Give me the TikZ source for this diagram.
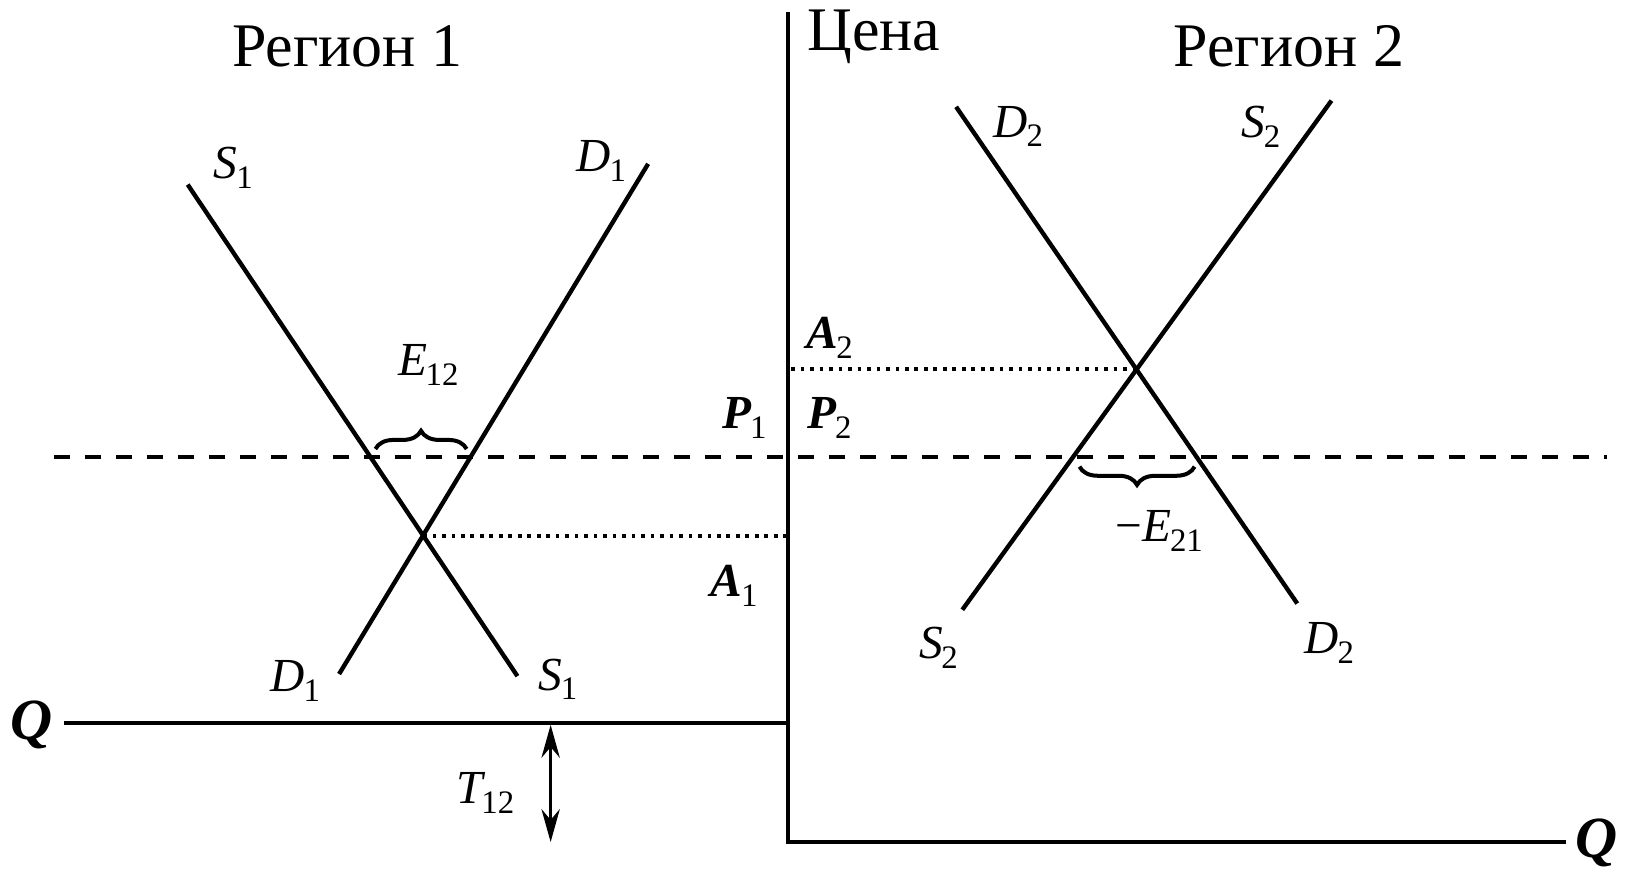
\documentclass[tikz,border=0pt]{standalone}
\usepackage{fontspec}
\setmainfont{Liberation Serif}
\usetikzlibrary{decorations.pathreplacing,arrows.meta}
\newcommand\lab[2]{{\itshape #1}\kern-0.03em\raisebox{-0.45ex}{\fontsize{9}{9}\selectfont #2}}
\newcommand\blab[2]{{\bfseries\itshape #1}\kern-0.03em\raisebox{-0.45ex}{\fontsize{9}{9}\selectfont #2}}
\begin{document}
\begin{tikzpicture}[x=0.01cm,y=-0.01cm,
  curve/.style={line width=1.2pt},
  axis/.style={line width=1pt},
  lbl/.style={font=\fontsize{13}{13}\selectfont, inner sep=0pt},
  ttl/.style={font=\fontsize{17}{17}\selectfont, inner sep=0pt},
  qlbl/.style={font=\fontsize{16}{16}\selectfont\bfseries\itshape, inner sep=0pt},
  dashline/.style={line width=1.1pt, dash pattern=on 4.5pt off 4pt},
  dotline/.style={line width=1pt, dash pattern=on 1pt off 1.6pt},
  brc/.style={line width=1.1pt, decorate, decoration={brace, amplitude=5pt}},
]
\useasboundingbox (0,0) rectangle (1568,841);
% coordinates
\coordinate (s1a) at (181,178); \coordinate (s1b) at (499,652);
\coordinate (d1a) at (327,650); \coordinate (d1b) at (625,158);
\coordinate (d2a) at (922,103); \coordinate (d2b) at (1251,582);
\coordinate (s2a) at (928,588); \coordinate (s2b) at (1284,97);
\coordinate (e1) at (408,517); \coordinate (e2) at (1096,356);
\coordinate (ytop) at (760,12); \coordinate (orig) at (760,812); \coordinate (xend) at (1510,812);
\coordinate (qL) at (62,697); \coordinate (qR) at (760,697);
\coordinate (dL) at (52,441); \coordinate (dR) at (1550,441);
\coordinate (a1) at (760,517); \coordinate (a2) at (763,356);
\coordinate (t1) at (531,699); \coordinate (t2) at (531,812);
\coordinate (b1a) at (362,433); \coordinate (b1b) at (450,433);
\coordinate (b2a) at (1152,450); \coordinate (b2b) at (1041,450);
% axes
\draw[axis] (ytop) -- (orig) -- (xend);
\draw[axis] (qL) -- (qR);
% curves
\draw[curve] (s1a) -- (s1b);
\draw[curve] (d1a) -- (d1b);
\draw[curve] (d2a) -- (d2b);
\draw[curve] (s2a) -- (s2b);
% price lines
\draw[dashline] (dL) -- (dR);
\draw[dotline] (e1) -- (a1);
\draw[dotline] (a2) -- (e2);
% braces
\draw[brc] (b1a) -- (b1b);
\draw[brc] (b2a) -- (b2b);
% transport arrow
\draw[line width=1pt, {Stealth[length=9pt,width=5pt]}-{Stealth[length=9pt,width=5pt]}] (t1) -- (t2);
% titles
\node[ttl] (r1) at (335,45) {Регион 1};
\node[ttl] (r2) at (1243,45) {Регион 2};
\node[ttl, anchor=west] (pr) at (778,35) {Цена};
\node[qlbl] (ql) at (30,699) {Q};
\node[qlbl] (qr) at (1540,813) {Q};
% labels
\node[lbl] (ls1t) at (225,162) {\lab{S}{1}};
\node[lbl] (ld1t) at (580,155) {\lab{D}{1}};
\node[lbl] (ld1b) at (285,657) {\lab{D}{1}};
\node[lbl] (ls1b) at (538,655) {\lab{S}{1}};
\node[lbl] (ld2t) at (982,122) {\lab{D}{2}};
\node[lbl] (ls2t) at (1216,122) {\lab{S}{2}};
\node[lbl] (ls2b) at (905,625) {\lab{S}{2}};
\node[lbl] (ld2b) at (1282,620) {\lab{D}{2}};
\node[lbl] (le12) at (413,352) {\lab{E}{12}};
\node[lbl] (le21) at (1118,512) {−\lab{E}{21}};
\node[lbl] (lp1) at (718,403) {\blab{P}{1}};
\node[lbl] (lp2) at (800,403) {\blab{P}{2}};
\node[lbl] (la2) at (800,326) {\blab{A}{2}};
\node[lbl] (la1) at (708,565) {\blab{A}{1}};
\node[lbl] (lt12) at (468,765) {\lab{T}{12}};
\end{tikzpicture}
\end{document}
